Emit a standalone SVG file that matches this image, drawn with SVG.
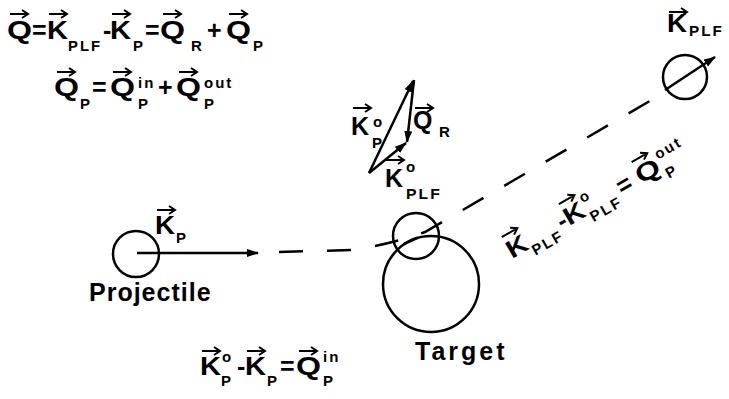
<svg xmlns="http://www.w3.org/2000/svg" xmlns:xlink="http://www.w3.org/1999/xlink" width="729" height="399" viewBox="0 0 729 399">
<style>
.t{font-family:"Liberation Sans",Arial,Helvetica,sans-serif;font-weight:bold;font-size:25px;fill:#000}
.s{font-size:15px;letter-spacing:2px}
.ln{stroke:#000;stroke-width:2.5;fill:none}
.dash{stroke:#000;stroke-width:2.5;fill:none;stroke-dasharray:24 24}
</style>
<defs>
<marker id="ah" markerUnits="userSpaceOnUse" markerWidth="13" markerHeight="10" refX="11" refY="4" orient="auto"><path d="M0 0 L12 4 L0 8 z" fill="#000"/></marker>
<path id="v" d="M0 0 H18 M12 -4 L18 0 L12 4" fill="none" stroke="#000" stroke-width="2"/>
</defs>
<rect width="729" height="399" fill="#fff"/>

<g id="connectors">
<path class="dash" d="M279 252 L352 250 Q392 244 425 232 L667 91"/>
<line class="ln" x1="404" y1="244" x2="417" y2="238"/>
<line class="ln" x1="137" y1="253" x2="258" y2="253" marker-end="url(#ah)"/>
<line class="ln" x1="369" y1="173" x2="413" y2="81" marker-end="url(#ah)"/>
<line class="ln" x1="414" y1="80" x2="407" y2="142" marker-end="url(#ah)"/>
<line class="ln" x1="369" y1="173" x2="406" y2="143" marker-end="url(#ah)"/>
<line class="ln" x1="665" y1="90" x2="715" y2="57" marker-end="url(#ah)"/>
</g>

<g id="projectile">
<circle class="ln" cx="136" cy="254" r="23"/>
<text class="t" x="89" y="301" letter-spacing="1">Projectile</text>
<use xlink:href="#v" x="157" y="210"/>
<text class="t" x="155" y="234" textLength="20" lengthAdjust="spacingAndGlyphs">K</text>
<text class="t s" x="176" y="243">P</text>
</g>

<g id="target">
<circle class="ln" cx="431" cy="284" r="48"/>
<circle class="ln" cx="416" cy="236" r="23" fill="#fff"/>
<text class="t" x="415" y="360" letter-spacing="3">Target</text>
</g>

<g id="plf">
<circle class="ln" cx="685" cy="77" r="22"/>
<use xlink:href="#v" x="669" y="12"/>
<text class="t" x="667" y="32" textLength="20" lengthAdjust="spacingAndGlyphs">K</text>
<text class="t s" x="689" y="36" textLength="35" lengthAdjust="spacingAndGlyphs">PLF</text>
</g>

<g id="eq1">
<use xlink:href="#v" x="10" y="14"/>
<text class="t" x="7" y="39" textLength="25" lengthAdjust="spacingAndGlyphs">Q</text>
<text class="t" x="32" y="39">=</text>
<use xlink:href="#v" x="49" y="14"/>
<text class="t" x="47" y="39" textLength="21" lengthAdjust="spacingAndGlyphs">K</text>
<text class="t s" x="68" y="51" textLength="34" lengthAdjust="spacingAndGlyphs">PLF</text>
<text class="t" x="103" y="39">-</text>
<use xlink:href="#v" x="112" y="14"/>
<text class="t" x="110" y="39" textLength="21" lengthAdjust="spacingAndGlyphs">K</text>
<text class="t s" x="133" y="51">P</text>
<text class="t" x="145" y="39">=</text>
<use xlink:href="#v" x="163" y="14"/>
<text class="t" x="160" y="39" textLength="25" lengthAdjust="spacingAndGlyphs">Q</text>
<text class="t s" x="191" y="51">R</text>
<text class="t" x="207" y="39">+</text>
<use xlink:href="#v" x="229" y="14"/>
<text class="t" x="226" y="39" textLength="25" lengthAdjust="spacingAndGlyphs">Q</text>
<text class="t s" x="253" y="51">P</text>
</g>

<g id="eq2">
<use xlink:href="#v" x="57" y="72"/>
<text class="t" x="54" y="96" textLength="25" lengthAdjust="spacingAndGlyphs">Q</text>
<text class="t s" x="80" y="109">P</text>
<text class="t" x="92" y="96">=</text>
<use xlink:href="#v" x="113" y="72"/>
<text class="t" x="110" y="96" textLength="25" lengthAdjust="spacingAndGlyphs">Q</text>
<text class="t s" x="138" y="88">in</text>
<text class="t s" x="138" y="109">P</text>
<text class="t" x="158" y="96">+</text>
<use xlink:href="#v" x="179" y="72"/>
<text class="t" x="176" y="96" textLength="25" lengthAdjust="spacingAndGlyphs">Q</text>
<text class="t s" x="204" y="88">out</text>
<text class="t s" x="204" y="109">P</text>
</g>

<g id="tri-labels">
<use xlink:href="#v" x="353" y="108"/>
<text class="t" x="351" y="135">K</text>
<text class="t s" x="373" y="127">o</text>
<text class="t s" x="372" y="148">P</text>
<use xlink:href="#v" x="415" y="108"/>
<text class="t" x="413" y="129">Q</text>
<text class="t s" x="439" y="137">R</text>
<use xlink:href="#v" x="386" y="160"/>
<text class="t" x="385" y="187">K</text>
<text class="t s" x="406" y="172">o</text>
<text class="t s" x="406" y="199" textLength="36" lengthAdjust="spacingAndGlyphs">PLF</text>
</g>

<g id="eq-out" transform="translate(512,259) rotate(-30)">
<use xlink:href="#v" x="2" y="-24"/>
<text class="t" x="0" y="0" textLength="21" lengthAdjust="spacingAndGlyphs">K</text>
<text class="t s" x="22" y="9" textLength="34" lengthAdjust="spacingAndGlyphs">PLF</text>
<text class="t" x="58" y="0">-</text>
<use xlink:href="#v" x="68" y="-24"/>
<text class="t" x="66" y="0" textLength="21" lengthAdjust="spacingAndGlyphs">K</text>
<text class="t s" x="89" y="-13">o</text>
<text class="t s" x="89" y="9" textLength="35" lengthAdjust="spacingAndGlyphs">PLF</text>
<text class="t" x="127" y="0">=</text>
<use xlink:href="#v" x="152" y="-24"/>
<text class="t" x="149" y="0" textLength="25" lengthAdjust="spacingAndGlyphs">Q</text>
<text class="t s" x="176" y="-13">out</text>
<text class="t s" x="176" y="9">P</text>
</g>

<g id="eq-in">
<use xlink:href="#v" x="202" y="351"/>
<text class="t" x="200" y="375" textLength="21" lengthAdjust="spacingAndGlyphs">K</text>
<text class="t s" x="222" y="362">o</text>
<text class="t s" x="221" y="386">P</text>
<text class="t" x="237" y="375">-</text>
<use xlink:href="#v" x="247" y="351"/>
<text class="t" x="245" y="375" textLength="21" lengthAdjust="spacingAndGlyphs">K</text>
<text class="t s" x="267" y="386">P</text>
<text class="t" x="280" y="375">=</text>
<use xlink:href="#v" x="299" y="351"/>
<text class="t" x="296" y="375" textLength="25" lengthAdjust="spacingAndGlyphs">Q</text>
<text class="t s" x="323" y="362">in</text>
<text class="t s" x="323" y="386">P</text>
</g>
</svg>
